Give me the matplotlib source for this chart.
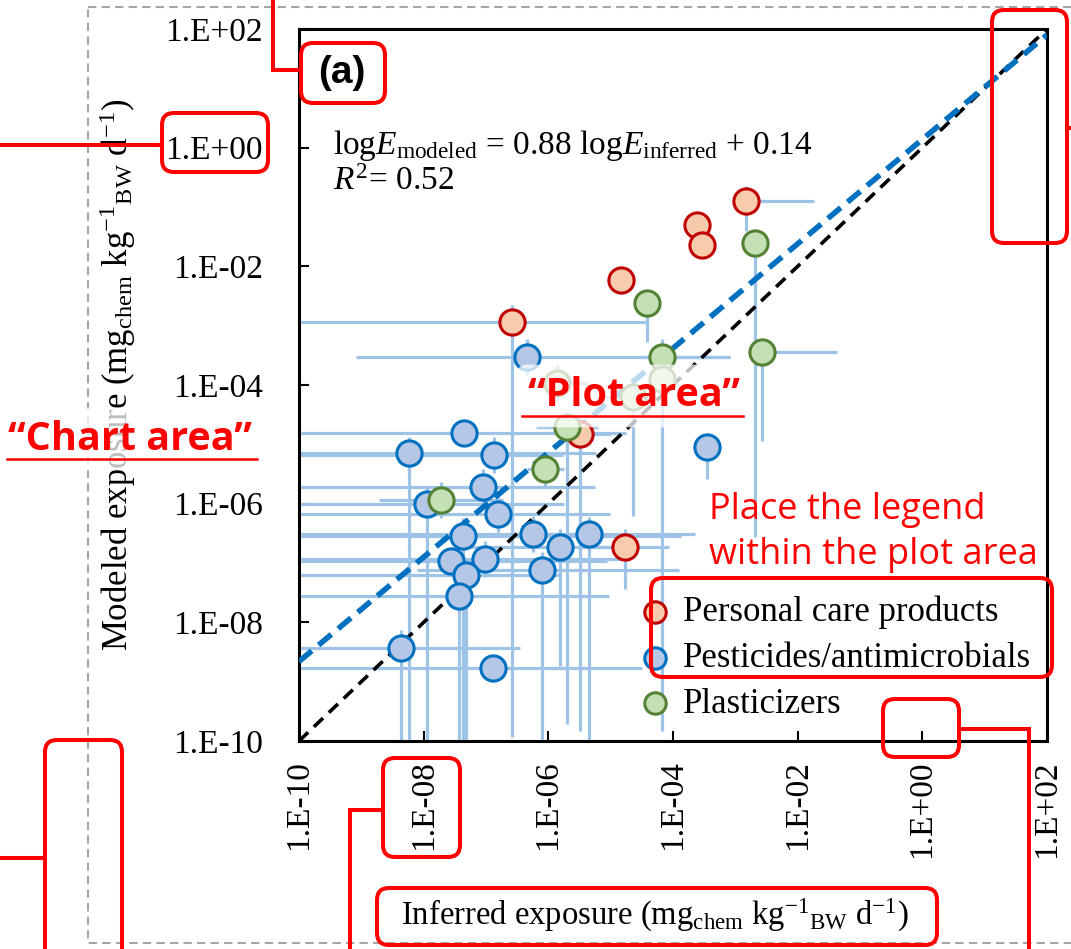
import matplotlib
matplotlib.use("Agg")
import matplotlib.pyplot as plt
import numpy as np
from matplotlib.patches import FancyBboxPatch, Rectangle
from matplotlib.ticker import FixedLocator, FuncFormatter, NullLocator

plt.rcParams['font.family'] = ['Liberation Serif', 'DejaVu Serif']
plt.rcParams['mathtext.fontset'] = 'custom'
plt.rcParams['mathtext.rm'] = 'Liberation Serif'
plt.rcParams['mathtext.it'] = 'Liberation Serif:italic'
plt.rcParams['mathtext.bf'] = 'Liberation Serif:bold'

# exposures as log10 values, error bars in decades (low x, high x, low y, high y)
pcp_x = [-2.83, -3.61, -3.53, -4.83, -6.58, -5.49, -4.77]
pcp_y = [-0.90, -1.30, -1.64, -2.23, -2.94, -4.83, -6.73]
pcp_err = [(0.1, 1.1, 0.5, 0.25), (0, 0, 0, 0), (0, 0, 0, 0), (0, 0, 0, 0),
           (6, 2.17, 7, 0.28), (0.3, 0.5, 5, 0.3), (0.5, 0.7, 0.7, 0.3)]

pest_x = [-6.34, -7.35, -8.24, -6.87, -3.45, -7.05, -7.95, -6.81, -7.37, -6.25,
          -5.35, -5.81, -7.56, -7.02, -7.32, -6.10, -7.43, -8.36, -6.89]
pest_y = [-3.53, -4.81, -5.15, -5.18, -5.04, -5.72, -6.01, -6.17, -6.54, -6.51,
          -6.51, -6.73, -6.97, -6.93, -7.20, -7.12, -7.56, -8.43, -8.77]
pest_err = [(2.74, 3.26, 0.3, 0.3), (4, 2.6, 0.2, 0.2), (3, 3, 6, 0.27), (4, 1.1, 0.3, 0.3),
            (0.1, 0.1, 0.55, 0.2), (4, 1.8, 0.3, 0.3), (3, 2.2, 4, 0.3), (4, 1.8, 0.3, 0.3),
            (3, 3.5, 5, 0.3), (4, 1.0, 0.3, 0.3), (1, 1.7, 3.5, 0.28), (1.5, 0.8, 2, 0.3),
            (3, 2.5, 0.2, 0.2), (3, 2.2, 0.3, 0.3), (3, 1.5, 3, 0.2), (2, 2.2, 3, 0.3),
            (3, 2.4, 3, 0.2), (2, 1.9, 2, 0.3), (3.2, 2.4, 0.2, 0.2)]

plast_x = [-2.68, -4.42, -4.18, -2.57, -4.18, -5.86, -4.64, -5.70, -6.05, -7.72]
plast_y = [-1.61, -2.62, -3.53, -3.44, -3.90, -3.97, -4.20, -4.71, -5.42, -5.94]
plast_err = [(0.1, 0.1, 4.96, 0.2), (0.1, 0.1, 0.66, 0.1), (0.3, 1.1, 6.3, 0.3),
             (0.1, 1.2, 1.5, 0.2), (0.2, 0.2, 0.3, 0.3), (0.3, 0.5, 0.3, 0.3),
             (0.5, 0.5, 2, 0.3), (0.5, 0.5, 5, 0.2), (0.3, 0.3, 0.3, 0.2), (1, 1, 0.3, 0.3)]

labels = ["Personal care products", "Pesticides/antimicrobials", "Plasticizers"]
slope, intercept = 0.88, 0.14
ticks = [1e-10, 1e-8, 1e-6, 1e-4, 1e-2, 1e0, 1e2]

W, H = 1071, 949
fig = plt.figure(figsize=(W / 100, H / 100), dpi=100)
ax = fig.add_axes([299 / W, 1 - 741 / H, 748 / W, 712 / H])
ax.set_xscale('log')
ax.set_yscale('log')
ax.set_xlim(1e-10, 1e2)
ax.set_ylim(1e-10, 1e2)


def draw(xl, yl, err, fc, ec, z):
    x = 10.0 ** np.array(xl)
    y = 10.0 ** np.array(yl)
    e = np.array(err, dtype=float)
    xerr = [x - x * 10 ** (-e[:, 0]), x * 10 ** e[:, 1] - x]
    yerr = [y - y * 10 ** (-e[:, 2]), y * 10 ** e[:, 3] - y]
    ax.errorbar(x, y, xerr=xerr, yerr=yerr, fmt='none', ecolor='#9DC3E6',
                elinewidth=2.3, capsize=0, zorder=2)
    return ax.scatter(x, y, s=330, facecolor=fc, edgecolor=ec, linewidth=2.2, zorder=z)


h1 = draw(pcp_x, pcp_y, pcp_err, '#F8CBAD', '#C00000', 4)
h2 = draw(pest_x, pest_y, pest_err, '#B4C7E7', '#0070C0', 5)
h3 = draw(plast_x, plast_y, plast_err, '#C5E0B4', '#548235', 6)

xx = np.array([1e-10, 1e2])
ax.plot(xx, xx, color='black', ls=(0, (3.5, 2.2)), lw=2.6, zorder=3)
ax.plot(xx, 10 ** (slope * np.log10(xx) + intercept), color='#0070C0',
        ls=(0, (3, 1.6)), lw=4, zorder=3)

for s in ax.spines.values():
    s.set_linewidth(2.2)
ax.xaxis.set_major_locator(FixedLocator(ticks))
ax.yaxis.set_major_locator(FixedLocator(ticks))
ax.xaxis.set_minor_locator(NullLocator())
ax.yaxis.set_minor_locator(NullLocator())
fmt = FuncFormatter(lambda v, p: "1.E%+03d" % int(round(np.log10(v))))
ax.xaxis.set_major_formatter(fmt)
ax.yaxis.set_major_formatter(fmt)
ax.tick_params(axis='both', direction='in', length=7, width=1.5, labelsize=24)
ax.tick_params(axis='y', pad=26)
ax.tick_params(axis='x', pad=14, labelrotation=90)

# overlay in pixel coordinates for annotations
ov = fig.add_axes([0, 0, 1, 1], zorder=10)
ov.set_xlim(0, W)
ov.set_ylim(H, 0)
ov.axis('off')

leg = ax.legend([h1, h2, h3], labels, loc='center left', bbox_to_anchor=(638, 658),
                bbox_transform=ov.transData, frameon=False, fontsize=25,
                handlelength=1.0, handletextpad=0.3, labelspacing=0.37,
                borderpad=0, borderaxespad=0, markerscale=0.85)

ov.add_patch(Rectangle((88, 7), 1100, 936, fill=False, ec='#A6A6A6', lw=1.5,
                       ls=(0, (4, 2.5))))

ov.text(342, 73, "(a)", family='Liberation Sans', weight='bold', fontsize=28,
        ha='center', va='center')
ov.text(333, 145, r"log$E_{\mathrm{modeled}}$ = 0.88 log$E_{\mathrm{inferred}}$ + 0.14",
        fontsize=24, ha='left', va='center')
ov.text(333, 182, r"$R^2$= 0.52", fontsize=24, ha='left', va='center')
ov.text(118, 375, r"Modeled exposure (mg$_{\mathrm{chem}}$ kg$^{-1}{}_{\mathrm{BW}}$ d$^{-1}$)",
        fontsize=25, rotation=90, ha='center', va='center')
ov.text(655, 915, r"Inferred exposure (mg$_{\mathrm{chem}}$ kg$^{-1}{}_{\mathrm{BW}}$ d$^{-1}$)",
        fontsize=23.5, ha='center', va='center')

glow = dict(boxstyle='round,pad=0.3', fc='white', ec='none', alpha=0.75)
ov.text(634, 396, "\u201cPlot area\u201d", family='Open Sans', weight='bold', fontsize=28.5,
        color='red', ha='center', va='center', bbox=glow, zorder=4)
ov.plot([522, 743], [416, 416], color='red', lw=1.8, zorder=5)
ov.text(130, 439, "\u201cChart area\u201d", family='Open Sans', weight='bold', fontsize=28.5,
        color='red', ha='center', va='center', bbox=glow, zorder=4)
ov.plot([7, 257], [459, 459], color='red', lw=1.8, zorder=5)

ov.text(709, 510, "Place the legend", family='Open Sans', fontsize=26, color='red',
        ha='left', va='center')
ov.text(709, 555, "within the plot area", family='Open Sans', fontsize=26, color='red',
        ha='left', va='center')


def rbox(x0, y0, x1, y1):
    ov.add_patch(FancyBboxPatch((x0, y0), x1 - x0, y1 - y0,
                                boxstyle='round,pad=0,rounding_size=12',
                                fc='none', ec='red', lw=2.9, clip_on=False, zorder=6))


rbox(301, 43, 385, 103)
rbox(162, 113, 268, 172)
rbox(992, 10, 1067, 243)
rbox(883, 699, 959, 757)
rbox(383, 758, 460, 857)
rbox(377, 888, 937, 945)
rbox(651, 578, 1052, 677)
rbox(45, 740, 122, 980)

red = dict(color='red', lw=2.9, solid_joinstyle='miter', clip_on=False, zorder=6)
ov.plot([299, 273, 273], [70, 70, -5], **red)
ov.plot([162, -5], [145, 145], **red)
ov.plot([1067, 1075], [128, 128], **red)
ov.plot([959, 1029, 1029], [729, 729, 955], **red)
ov.plot([383, 350, 350], [810, 810, 955], **red)
ov.plot([45, -5], [858, 858], **red)

fig.savefig("out.png", dpi=100)
